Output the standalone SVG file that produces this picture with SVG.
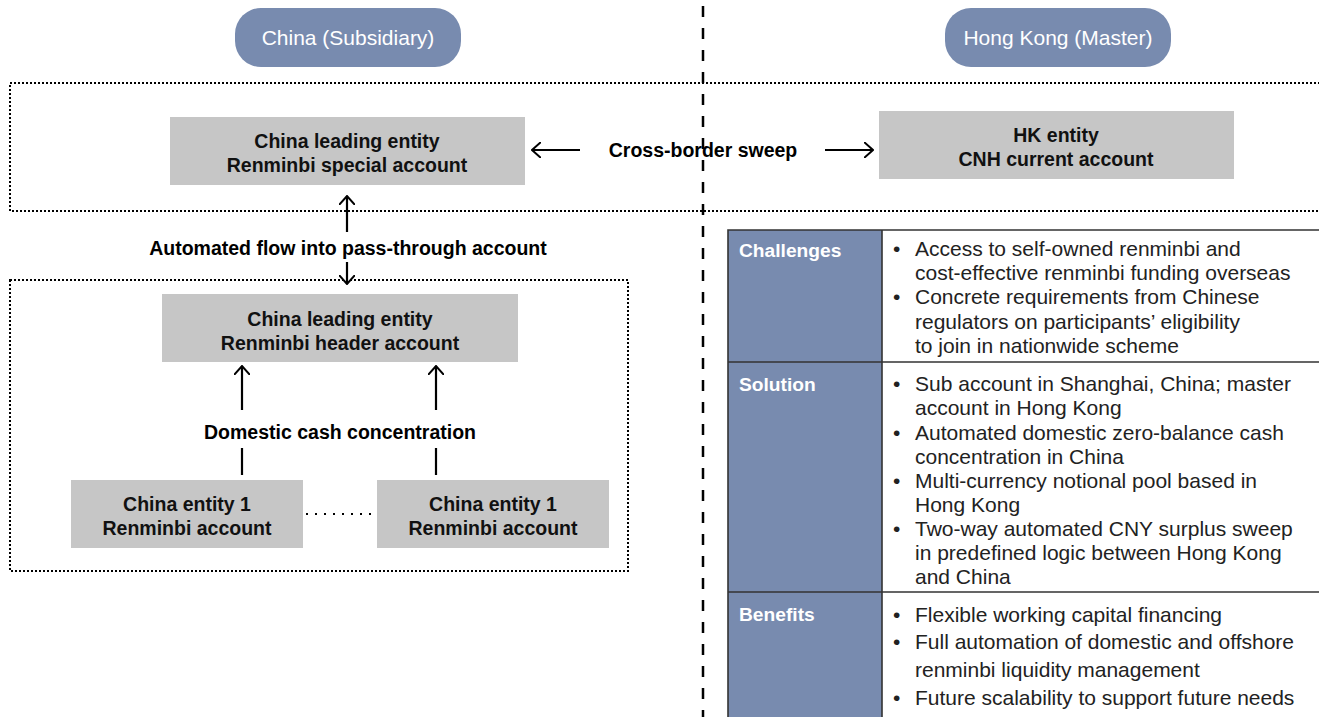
<svg xmlns="http://www.w3.org/2000/svg" width="1319" height="717" viewBox="0 0 1319 717">
  <defs>
    <style>
      .pill { fill: #788BAF; }
      .pilltxt { font-family: "Liberation Sans", Arial, sans-serif; font-size: 21px; fill: #ffffff; text-anchor: middle; }
      .box { fill: #C6C6C6; }
      .boxtxt { font-family: "Liberation Sans", Arial, sans-serif; font-size: 19.5px; font-weight: bold; fill: #111; text-anchor: middle; }
      .lbl { font-family: "Liberation Sans", Arial, sans-serif; font-size: 19.5px; font-weight: bold; fill: #000; text-anchor: middle; }
      .dotted { fill: none; stroke: #000; stroke-width: 2; stroke-dasharray: 2 2; }
      .sparse { fill: none; stroke: #000; stroke-width: 2; stroke-dasharray: 2 7; }
      .conn { fill: none; stroke: #000; stroke-width: 2.2; }
      .divider { stroke: #000; stroke-width: 2.5; stroke-dasharray: 11 11; }
      .hdr { fill: #788BAF; }
      .hdrtxt { font-family: "Liberation Sans", Arial, sans-serif; font-size: 19.2px; font-weight: bold; fill: #ffffff; }
      .cell { font-family: "Liberation Sans", Arial, sans-serif; font-size: 21px; fill: #222; }
      .grid { fill: none; stroke: #333; stroke-width: 1.6; }
    </style>
    <marker id="head" viewBox="0 0 10 16" refX="9" refY="8" markerWidth="10" markerHeight="16" markerUnits="userSpaceOnUse" orient="auto">
      <path d="M0,0 L9,8 L0,16" fill="none" stroke="#000" stroke-width="2"/>
    </marker>
  </defs>

  <!-- border between the two jurisdictions -->
  <line class="divider" x1="703" y1="6" x2="703" y2="717"/>

  <!-- region headers -->
  <g id="china-header">
    <rect class="pill" x="235" y="8" width="226" height="59" rx="26"/>
    <text class="pilltxt" x="348" y="45">China (Subsidiary)</text>
  </g>
  <g id="hk-header">
    <rect class="pill" x="945" y="8" width="226" height="59" rx="26"/>
    <text class="pilltxt" x="1058" y="45">Hong Kong (Master)</text>
  </g>

  <!-- groupings -->
  <rect class="dotted" x="10" y="83" width="1330" height="128"/>
  <rect class="dotted" x="10" y="280" width="618" height="291"/>

  <!-- accounts -->
  <g id="special-account">
    <rect class="box" x="170" y="117" width="355" height="68"/>
    <text class="boxtxt" x="347" y="148">China leading entity</text>
    <text class="boxtxt" x="347" y="172">Renminbi special account</text>
  </g>
  <g id="hk-account">
    <rect class="box" x="879" y="111" width="355" height="68"/>
    <text class="boxtxt" x="1056" y="142">HK entity</text>
    <text class="boxtxt" x="1056" y="166">CNH current account</text>
  </g>
  <g id="header-account">
    <rect class="box" x="162" y="294" width="356" height="68"/>
    <text class="boxtxt" x="340" y="326">China leading entity</text>
    <text class="boxtxt" x="340" y="350">Renminbi header account</text>
  </g>
  <g id="entity-a">
    <rect class="box" x="71" y="480" width="232" height="68"/>
    <text class="boxtxt" x="187" y="511">China entity 1</text>
    <text class="boxtxt" x="187" y="535">Renminbi account</text>
  </g>
  <g id="entity-b">
    <rect class="box" x="377" y="480" width="232" height="68"/>
    <text class="boxtxt" x="493" y="511">China entity 1</text>
    <text class="boxtxt" x="493" y="535">Renminbi account</text>
  </g>

  <!-- flows -->
  <g id="connectors">
    <line class="conn" x1="580" y1="150" x2="532" y2="150" marker-end="url(#head)"/>
    <line class="conn" x1="825" y1="150" x2="873" y2="150" marker-end="url(#head)"/>
    <text class="lbl" x="703" y="157">Cross-border sweep</text>

    <line class="conn" x1="347" y1="232" x2="347" y2="196" marker-end="url(#head)"/>
    <text class="lbl" x="348" y="255">Automated flow into pass-through account</text>
    <line class="conn" x1="347" y1="262" x2="347" y2="284" marker-end="url(#head)"/>

    <line class="conn" x1="242" y1="410" x2="242" y2="366" marker-end="url(#head)"/>
    <line class="conn" x1="436" y1="410" x2="436" y2="366" marker-end="url(#head)"/>
    <text class="lbl" x="340" y="439">Domestic cash concentration</text>
    <line class="conn" x1="242" y1="448" x2="242" y2="475"/>
    <line class="conn" x1="436" y1="448" x2="436" y2="475"/>

    <line class="sparse" x1="306" y1="514" x2="375" y2="514"/>
  </g>

  <!-- summary table -->
  <g id="summary-table">
    <rect class="hdr" x="728" y="230" width="154" height="490"/>
    <path class="grid" d="M1325,230 H728 V720 M882,230 V720 M728,362 H1325 M728,592 H1325"/>

    <text class="hdrtxt" x="739" y="257">Challenges</text>
    <text class="hdrtxt" x="739" y="391">Solution</text>
    <text class="hdrtxt" x="739" y="621">Benefits</text>

    <g class="cell">
      <text x="893" y="256">•</text><text x="915" y="256">Access to self-owned renminbi and</text>
      <text x="915" y="280">cost-effective renminbi funding overseas</text>
      <text x="893" y="304">•</text><text x="915" y="304">Concrete requirements from Chinese</text>
      <text x="915" y="329">regulators on participants’ eligibility</text>
      <text x="915" y="353">to join in nationwide scheme</text>

      <text x="893" y="391">•</text><text x="915" y="391">Sub account in Shanghai, China; master</text>
      <text x="915" y="415">account in Hong Kong</text>
      <text x="893" y="440">•</text><text x="915" y="440">Automated domestic zero-balance cash</text>
      <text x="915" y="464">concentration in China</text>
      <text x="893" y="488">•</text><text x="915" y="488">Multi-currency notional pool based in</text>
      <text x="915" y="512">Hong Kong</text>
      <text x="893" y="536">•</text><text x="915" y="536">Two-way automated CNY surplus sweep</text>
      <text x="915" y="560">in predefined logic between Hong Kong</text>
      <text x="915" y="584">and China</text>

      <text x="893" y="622">•</text><text x="915" y="622">Flexible working capital financing</text>
      <text x="893" y="649">•</text><text x="915" y="649">Full automation of domestic and offshore</text>
      <text x="915" y="677">renminbi liquidity management</text>
      <text x="893" y="705">•</text><text x="915" y="705">Future scalability to support future needs</text>
    </g>
  </g>
</svg>
